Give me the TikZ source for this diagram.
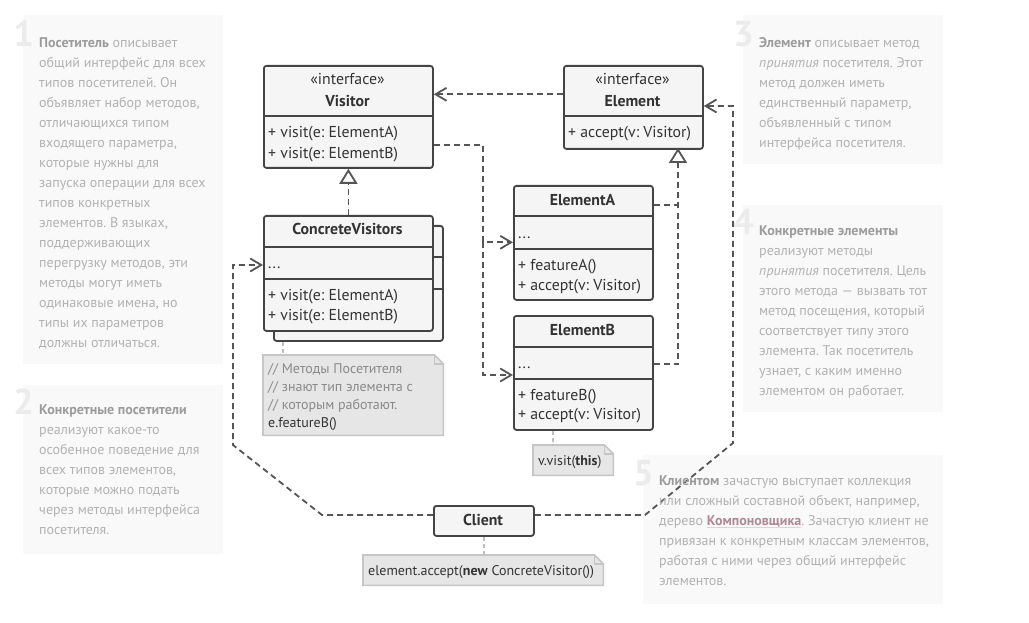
\documentclass[tikz,border=0pt]{standalone}
\usepackage{fontspec}
\setmainfont{PT Sans}
\usetikzlibrary{arrows.meta,calc}
\definecolor{linec}{HTML}{555555}
\definecolor{boxdraw}{HTML}{444444}
\definecolor{boxfill}{HTML}{F5F5F5}
\definecolor{notefill}{HTML}{E6E6E6}
\definecolor{notedraw}{HTML}{C6C6C6}
\definecolor{panelfill}{HTML}{F9F9F9}
\definecolor{paneltext}{HTML}{B2B2B2}
\definecolor{panelbold}{HTML}{9C9C9C}
\definecolor{digitc}{HTML}{EBEBEB}
\definecolor{linkc}{HTML}{AE8A94}
\definecolor{ulc}{HTML}{F5CACA}
\definecolor{txt}{HTML}{333333}
\definecolor{comc}{HTML}{8A8A8A}
\newcommand\hl[1]{{\bfseries\color{panelbold}#1}}
\newsavebox\lnkbox
\newcommand\ulink[1]{\sbox\lnkbox{\bfseries\color{linkc}#1}\rlap{\color{ulc}\rule[-3pt]{\wd\lnkbox}{1.5pt}}\usebox\lnkbox}
\frenchspacing
\begin{document}
\frenchspacing
\begin{tikzpicture}[x=1pt,y=-1pt,
  panel/.style={fill=panelfill, draw=none, inner sep=0pt, anchor=north west},
  ptext/.style={font=\fontsize{14}{20}\selectfont\frenchspacing, text=paneltext, align=left, inner sep=0pt, anchor=north west},
  digit/.style={font=\fontsize{36}{36}\selectfont\bfseries, text=digitc, inner sep=0pt, anchor=base east},
  umlbox/.style={draw=boxdraw, fill=boxfill, line width=1.8pt, rounded corners=2.5pt, inner sep=0pt, anchor=north west},
  divider/.style={draw=boxdraw, line width=1.8pt},
  utext/.style={font=\fontsize{15.8}{18}\selectfont, text=txt, inner sep=0pt},
  ttext/.style={font=\fontsize{15.8}{18}\selectfont\bfseries, text=txt, inner sep=0pt, anchor=base},
  dep/.style={draw=linec, line width=1.8pt, dash pattern=on 6pt off 4pt, -{Straight Barb[length=11pt,width=13pt]}},
  real/.style={draw=linec, line width=1.8pt, dash pattern=on 6pt off 4pt, -{Triangle[open,length=15pt,width=18pt,fill=white]}},
  plain/.style={draw=linec, line width=1.8pt, dash pattern=on 6pt off 4pt},
  notebox/.style={draw=none, inner sep=0pt, anchor=north west},
  noteline/.style={draw=notedraw, line width=1.6pt, fill=notefill},
  notelink/.style={draw=notedraw!90!gray, line width=1.8pt, dash pattern=on 4pt off 3pt},
  ntext/.style={font=\fontsize{14}{18.3}\selectfont\frenchspacing, text=txt, align=left, inner sep=0pt}
]
\useasboundingbox[fill=white] (0,0) rectangle (1029,623);

% ---------- side panels ----------
\node[panel, minimum width=200, minimum height=349] (p1) at (23,15) {};
\node[panel, minimum width=200, minimum height=169] (p2) at (23,385) {};
\node[panel, minimum width=200, minimum height=149] (p3) at (743,15) {};
\node[panel, minimum width=200, minimum height=207] (p4) at (743,205) {};
\node[panel, minimum width=300, minimum height=149] (p5) at (643,455) {};

\node[digit] (d1) at (34,47) {1};
\node[digit] (d2) at (34,414) {2};
\node[digit] (d3) at (754,47) {3};
\node[digit] (d4) at (754,235) {4};
\node[digit] (d5) at (654,485) {5};

\node[ptext] (t1) at (39,33) {\strut\hl{Посетитель} описывает\\
общий интерфейс для всех\\
типов посетителей. Он\\
объявляет набор методов,\\
отличающихся типом\\
входящего параметра,\\
которые нужны для\\
запуска операции для всех\\
типов конкретных\\
элементов. В языках,\\
поддерживающих\\
перегрузку методов, эти\\
методы могут иметь\\
одинаковые имена, но\\
типы их параметров\\
должны отличаться.};

\node[ptext] (t2) at (39,400) {\strut\hl{Конкретные посетители}\\
реализуют какое-то\\
особенное поведение для\\
всех типов элементов,\\
которые можно подать\\
через методы интерфейса\\
посетителя.};

\node[ptext] (t3) at (759,33) {\strut\hl{Элемент} описывает метод\\
\textit{принятия} посетителя. Этот\\
метод должен иметь\\
единственный параметр,\\
объявленный с типом\\
интерфейса посетителя.};

\node[ptext] (t4) at (759,221) {\strut\hl{Конкретные элементы}\\
реализуют методы\\
\textit{принятия} посетителя. Цель\\
этого метода — вызвать тот\\
метод посещения, который\\
соответствует типу этого\\
элемента. Так посетитель\\
узнает, с каким именно\\
элементом он работает.};

% ---------- UML boxes ----------
% Visitor
\node[umlbox, minimum width=169, minimum height=102] (visitor) at (263,65) {};
\draw[divider] (visitor.west |- 0,116) -- (visitor.east |- 0,116);
\node[utext, anchor=base] (vst) at (347.5,85) {«interface»};
\node[ttext] (vsn) at (347.5,106.7) {Visitor};
\node[utext, anchor=base west] (vsm1) at (268,137.3) {+ visit(e: ElementA)};
\node[utext, anchor=base west] (vsm2) at (268,158.3) {+ visit(e: ElementB)};

% Element
\node[umlbox, minimum width=139, minimum height=83] (element) at (563,65) {};
\draw[divider] (element.west |- 0,116) -- (element.east |- 0,116);
\node[utext, anchor=base] (elt) at (632.5,85) {«interface»};
\node[ttext] (eln) at (632.5,106.7) {Element};
\node[utext, anchor=base west] (elm1) at (568,137.3) {+ accept(v: Visitor)};

% ConcreteVisitors (stacked)
\node[umlbox, minimum width=169, minimum height=115] (cvback) at (273,225) {};
\draw[divider] (cvback.west |- 0,256.7) -- (cvback.east |- 0,256.7);
\draw[divider] (cvback.west |- 0,289.3) -- (cvback.east |- 0,289.3);
\node[umlbox, minimum width=169, minimum height=115] (cv) at (263,215) {};
\draw[divider] (cv.west |- 0,246.7) -- (cv.east |- 0,246.7);
\draw[divider] (cv.west |- 0,279.3) -- (cv.east |- 0,279.3);
\node[ttext] (cvn) at (347.5,235) {ConcreteVisitors};
\node[utext, anchor=base west] (cvf) at (268,268) {...};
\node[utext, anchor=base west] (cvm1) at (268,300) {+ visit(e: ElementA)};
\node[utext, anchor=base west] (cvm2) at (268,320) {+ visit(e: ElementB)};

% ElementA
\node[umlbox, minimum width=139, minimum height=114] (ea) at (513,185) {};
\draw[divider] (ea.west |- 0,216) -- (ea.east |- 0,216);
\draw[divider] (ea.west |- 0,249.3) -- (ea.east |- 0,249.3);
\node[ttext] (ean) at (582.5,205.7) {ElementA};
\node[utext, anchor=base west] (eaf) at (518,238.3) {...};
\node[utext, anchor=base west] (eam1) at (518,270) {+ featureA()};
\node[utext, anchor=base west] (eam2) at (518,290) {+ accept(v: Visitor)};

% ElementB
\node[umlbox, minimum width=139, minimum height=114] (eb) at (513,315) {};
\draw[divider] (eb.west |- 0,346.7) -- (eb.east |- 0,346.7);
\draw[divider] (eb.west |- 0,378.7) -- (eb.east |- 0,378.7);
\node[ttext] (ebn) at (582.5,335.7) {ElementB};
\node[utext, anchor=base west] (ebf) at (518,368.3) {...};
\node[utext, anchor=base west] (ebm1) at (518,400) {+ featureB()};
\node[utext, anchor=base west] (ebm2) at (518,419.3) {+ accept(v: Visitor)};

% Client
\node[umlbox, minimum width=100, minimum height=30] (client) at (433,505) {};
\node[ttext] (cln) at (483,525.7) {Client};

% ---------- notes ----------
\node[notebox, minimum width=180, minimum height=80] (n1) at (263,355) {};
\draw[noteline] (n1.north west) -- ($(n1.north east)+(-9,0)$) -- ($(n1.north east)+(0,9)$) -- (n1.south east) -- (n1.south west) -- cycle;
\draw[draw=notedraw, line width=1.6pt] ($(n1.north east)+(-9,0)$) |- ($(n1.north east)+(0,9)$);
\node[ntext, anchor=north west] (n1t) at (268,360) {\strut\color{comc}// Методы Посетителя\\
\color{comc}// знают тип элемента с\\
\color{comc}// которым работают.\\
e.featureB()};

\node[notebox, minimum width=80, minimum height=30] (n2) at (533,445) {};
\draw[noteline] (n2.north west) -- ($(n2.north east)+(-9,0)$) -- ($(n2.north east)+(0,9)$) -- (n2.south east) -- (n2.south west) -- cycle;
\draw[draw=notedraw, line width=1.6pt] ($(n2.north east)+(-9,0)$) |- ($(n2.north east)+(0,9)$);
\node[ntext, anchor=base west] (n2t) at (538,465) {v.visit(\textbf{this})};

\node[notebox, minimum width=240, minimum height=30] (n3) at (363,555) {};
\draw[noteline] (n3.north west) -- ($(n3.north east)+(-9,0)$) -- ($(n3.north east)+(0,9)$) -- (n3.south east) -- (n3.south west) -- cycle;
\draw[draw=notedraw, line width=1.6pt] ($(n3.north east)+(-9,0)$) |- ($(n3.north east)+(0,9)$);
\node[ntext, anchor=base west] (n3t) at (368,575) {element.accept(\textbf{new} ConcreteVisitor())};

% note links
\draw[notelink] (cvback.south -| 283,0) -- (n1.north -| 283,0);
\draw[notelink] (eb.south -| 553,0) -- (n2.north -| 553,0);
\draw[notelink] (client.south) -- (n3.north -| client.south);

% ---------- connectors ----------
\draw[dep] (element.west |- 0,94.3) -- (visitor.east |- 0,94.3);
\coordinate (vj) at (483,145);
\coordinate (vj2) at (483,242.3);
\draw[dep] (visitor.east |- vj) -- (vj) |- (ea.west |- vj2);
\draw[dep] (vj2) |- (eb.west |- 0,375);
\draw[real] (cv.north) -- (visitor.south);
\coordinate (etip) at (678,148);
\draw[real] (eb.east |- 0,364.3) -| (etip);
\draw[plain] (ea.east |- 0,205) -- (etip |- 0,205);
\coordinate (cl1) at (322,515);
\coordinate (cl2) at (233,445);
\coordinate (cl3) at (233,265);
\draw[dep] (client.west |- cl1) -- (cl1) -- (cl2) -- (cl3) -- (cv.west |- cl3);
\coordinate (cr1) at (645,515);
\coordinate (cr2) at (733,443);
\coordinate (cr3) at (733,106);
\draw[dep] (client.east |- cr1) -- (cr1) -- (cr2) -- (cr3) -- (element.east |- cr3);

% panel 5 text (drawn over the connector)
\node[ptext] (t5) at (659,471) {\strut\hl{Клиентом} зачастую выступает коллекция\\
или сложный составной объект, например,\\
дерево \ulink{Компоновщика}. Зачастую клиент не\\
привязан к конкретным классам элементов,\\
работая с ними через общий интерфейс\\
элементов.};
\end{tikzpicture}
\end{document}
